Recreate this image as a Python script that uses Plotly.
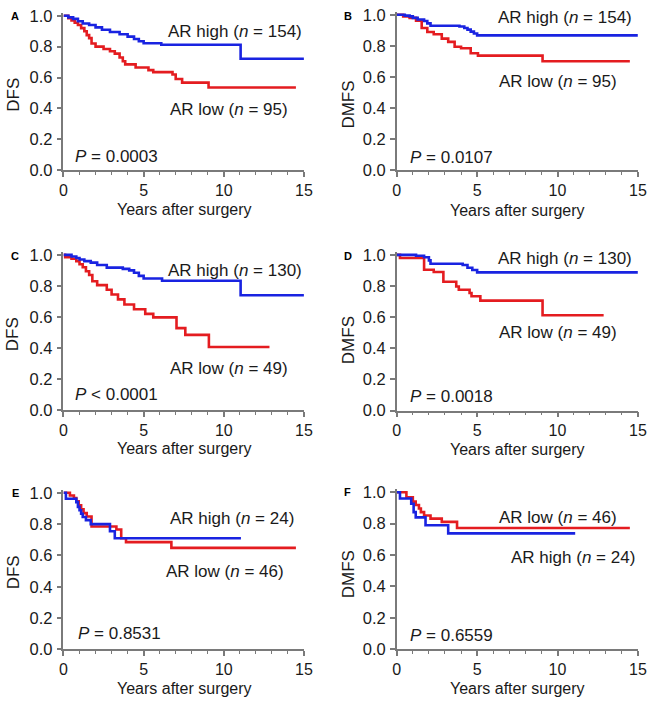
import plotly.graph_objects as go

# ---------------- data ----------------
A_high_t = [0, 0.3, 0.6, 0.9, 1.2, 1.6, 2.0, 2.4, 2.9, 3.5, 4.0, 4.4, 4.7, 5.0, 6.1, 11.05, 15.0]
A_high_s = [1.0, 0.99, 0.98, 0.965, 0.95, 0.94, 0.925, 0.91, 0.895, 0.88, 0.865, 0.85, 0.835, 0.822, 0.812, 0.722, 0.722]
A_low_t = [0, 0.3, 0.5, 0.7, 0.9, 1.1, 1.3, 1.45, 1.6, 1.75, 2.0, 2.5, 2.9, 3.2, 3.5, 3.7, 3.85, 4.5, 5.3, 5.6, 6.8, 7.0, 7.4, 9.05, 14.5]
A_low_s = [1.0, 0.985, 0.97, 0.955, 0.94, 0.92, 0.9, 0.875, 0.855, 0.82, 0.8, 0.785, 0.77, 0.755, 0.73, 0.705, 0.685, 0.665, 0.648, 0.635, 0.62, 0.59, 0.567, 0.535, 0.535]

B_high_t = [0, 0.5, 0.8, 1.0, 1.3, 1.7, 1.9, 2.1, 3.9, 4.2, 4.4, 4.6, 4.8, 5.0, 15.0]
B_high_s = [1.0, 0.995, 0.99, 0.98, 0.97, 0.96, 0.945, 0.93, 0.925, 0.915, 0.905, 0.892, 0.88, 0.868, 0.868]
B_low_t = [0, 0.4, 0.8, 1.2, 1.55, 1.9, 2.3, 2.8, 3.2, 3.6, 4.0, 4.6, 5.05, 9.07, 14.5]
B_low_s = [1.0, 0.99, 0.98, 0.962, 0.915, 0.89, 0.875, 0.847, 0.826, 0.795, 0.785, 0.753, 0.738, 0.702, 0.702]

C_high_t = [0, 0.5, 0.8, 1.0, 1.3, 1.7, 2.1, 2.7, 3.7, 4.1, 4.4, 4.7, 5.0, 6.15, 11.05, 15.0]
C_high_s = [1.0, 0.99, 0.98, 0.97, 0.96, 0.95, 0.935, 0.918, 0.91, 0.9, 0.885, 0.865, 0.848, 0.833, 0.74, 0.74]
C_low_t = [0, 0.1, 0.5, 0.8, 1.0, 1.2, 1.4, 1.6, 1.8, 2.1, 2.7, 3.0, 3.4, 3.8, 4.4, 5.1, 5.6, 7.05, 7.6, 9.07, 12.85]
C_low_s = [1.0, 0.985, 0.975, 0.96, 0.94, 0.92, 0.895, 0.87, 0.83, 0.805, 0.775, 0.745, 0.713, 0.68, 0.65, 0.62, 0.597, 0.528, 0.484, 0.406, 0.406]

D_high_t = [0, 1.2, 1.7, 2.0, 2.1, 4.1, 4.4, 4.7, 5.0, 15.0]
D_high_s = [1.0, 0.995, 0.985, 0.965, 0.943, 0.935, 0.918, 0.903, 0.888, 0.888]
D_low_t = [0, 0.2, 1.7, 2.3, 2.9, 3.7, 3.86, 4.53, 4.65, 5.2, 9.07, 12.87]
D_low_s = [1.0, 0.98, 0.905, 0.89, 0.828, 0.797, 0.776, 0.755, 0.734, 0.706, 0.612, 0.612]

E_high_t = [0, 0.15, 0.8, 0.9, 1.0, 1.1, 1.2, 1.4, 1.7, 2.9, 3.2, 11.07]
E_high_s = [1.0, 0.962, 0.94, 0.91, 0.888, 0.866, 0.845, 0.825, 0.8, 0.754, 0.71, 0.71]
E_low_t = [0, 0.4, 0.65, 0.8, 0.95, 1.1, 1.25, 1.45, 1.75, 3.3, 3.6, 3.9, 6.73, 14.5]
E_low_s = [1.0, 0.983, 0.967, 0.945, 0.92, 0.895, 0.87, 0.848, 0.785, 0.765, 0.71, 0.685, 0.648, 0.648]

F_high_t = [0, 0.2, 0.9, 1.05, 1.18, 1.79, 3.2, 11.1]
F_high_s = [1.0, 0.96, 0.926, 0.873, 0.84, 0.79, 0.738, 0.738]
F_low_t = [0, 0.6, 1.0, 1.18, 1.38, 1.5, 1.7, 2.1, 2.8, 3.75, 14.5]
F_low_s = [1.0, 0.967, 0.94, 0.918, 0.896, 0.873, 0.852, 0.832, 0.811, 0.772, 0.772]

panel_letters = ["A", "B", "C", "D", "E", "F"]
y_titles = ["DFS", "DMFS", "DFS", "DMFS", "DFS", "DMFS"]
x_title = "Years after surgery"
p_values = ["<i>P</i> = 0.0003", "<i>P</i> = 0.0107", "<i>P</i> < 0.0001",
            "<i>P</i> = 0.0018", "<i>P</i> = 0.8531", "<i>P</i> = 0.6559"]
high_labels = ["AR high (<i>n</i> = 154)", "AR high (<i>n</i> = 154)", "AR high (<i>n</i> = 130)",
               "AR high (<i>n</i> = 130)", "AR high (<i>n</i> = 24)", "AR high (<i>n</i> = 24)"]
low_labels = ["AR low (<i>n</i> = 95)", "AR low (<i>n</i> = 95)", "AR low (<i>n</i> = 49)",
              "AR low (<i>n</i> = 49)", "AR low (<i>n</i> = 46)", "AR low (<i>n</i> = 46)"]
x_ticks = [0, 5, 10, 15]
y_ticks = [0.0, 0.2, 0.4, 0.6, 0.8, 1.0]

series = [
    (A_high_t, A_high_s, A_low_t, A_low_s),
    (B_high_t, B_high_s, B_low_t, B_low_s),
    (C_high_t, C_high_s, C_low_t, C_low_s),
    (D_high_t, D_high_s, D_low_t, D_low_s),
    (E_high_t, E_high_s, E_low_t, E_low_s),
    (F_high_t, F_high_s, F_low_t, F_low_s),
]

# ---------------- layout geometry (page pixels) ----------------
W, H = 656, 708


def px2paper(px, py):
    return px / W, 1 - py / H


# (left, right, top(y=1.0), bottom(y=0)) in page pixels
boxes = [
    (60.7, 306.0, 10.0, 167.7),
    (400.7, 646.7, 9.0, 168.0),
    (60.7, 306.0, 254.3, 412.7),
    (400.7, 646.7, 254.3, 413.3),
    (60.7, 306.0, 497.3, 657.3),
    (400.7, 646.7, 496.7, 657.3),
]
high_pos = [(15.0, 0.90), (14.75, 0.983), (15.0, 0.90), (14.75, 0.979), (14.5, 0.833), (14.95, 0.585)]
low_pos = [(14.1, 0.395), (13.8, 0.572), (14.1, 0.265), (13.8, 0.499), (13.9, 0.496), (13.8, 0.838)]
p_pos = [(0.57, 0.087), (0.67, 0.086), (0.57, 0.10), (0.67, 0.088), (0.8, 0.104), (0.73, 0.087)]
ytitle_px = [(9.5, 90.3), (351.7, 101.0), (9.5, 335.0), (351.7, 341.7), (9.5, 578.3), (351.7, 580.8)]
# x title: (x centre, y, vertical anchor)
xtitle_px = [(183.8, 207.5, "middle"), (523.8, 208.5, "middle"), (183.8, 452.5, "middle"),
             (523.8, 453.5, "middle"), (183.8, 708.0, "bottom"), (523.8, 708.0, "bottom")]
letter_px = [(11.7, 10.7), (350.5, 10.7), (11.7, 255.0), (350.7, 255.0), (11.7, 497.3), (350.7, 496.7)]

BLUE = "rgb(25,35,225)"
RED = "rgb(228,28,32)"
FONT = "Arial, 'Liberation Sans', sans-serif"
TXT = "#1a1a1a"
AXC = "#7a7a7a"
FS = 17     # in-plot labels
XFS = 16    # x-axis titles
TFS = 16    # tick labels

fig = go.Figure()
annotations = []
EXTRA = 3.0  # px of headroom above y=1.0 so flat lines are not clipped

for i, (ht, hs, lt, ls) in enumerate(series):
    n = "" if i == 0 else str(i + 1)
    xa, ya = "x" + n, "y" + n
    fig.add_trace(go.Scatter(x=lt, y=ls, mode="lines", line=dict(color=RED, width=2.6, shape="hv"),
                             xaxis=xa, yaxis=ya, showlegend=False, hoverinfo="skip"))
    fig.add_trace(go.Scatter(x=ht, y=hs, mode="lines", line=dict(color=BLUE, width=2.6, shape="hv"),
                             xaxis=xa, yaxis=ya, showlegend=False, hoverinfo="skip"))
    l, r, t, b = boxes[i]
    ppu = b - t
    top = t - EXTRA
    ymax = 1.0 + EXTRA / ppu
    x0, y0 = px2paper(l, b)
    x1, y1 = px2paper(r, top)
    fig.layout["xaxis" + n] = dict(
        domain=[x0, x1], anchor=ya, range=[0, 15], tickvals=x_ticks,
        showline=True, linecolor=AXC, linewidth=1.5, ticks="outside", ticklen=5, tickwidth=1.5,
        tickcolor=AXC, showgrid=False, zeroline=False,
        tickfont=dict(family=FONT, size=TFS, color=TXT),
        minor=dict(tickvals=list(range(0, 16)), ticks="outside", ticklen=3, tickwidth=1.2, tickcolor=AXC),
    )
    fig.layout["yaxis" + n] = dict(
        domain=[y0, y1], anchor=xa, range=[0, ymax], tickvals=y_ticks,
        tickformat=".1f", showline=True, linecolor=AXC, linewidth=1.5, ticks="outside", ticklen=5,
        tickwidth=1.5, tickcolor=AXC, showgrid=False, zeroline=False,
        tickfont=dict(family=FONT, size=16.5, color=TXT), ticklabelstandoff=1,
    )
    fnt = dict(family=FONT, size=FS, color=TXT)
    hx, hy = high_pos[i]
    lx, ly = low_pos[i]
    px_, py_ = p_pos[i]
    annotations += [
        dict(x=hx, y=hy, xref=xa, yref=ya, text=high_labels[i], showarrow=False, xanchor="right", yanchor="middle", font=fnt),
        dict(x=lx, y=ly, xref=xa, yref=ya, text=low_labels[i], showarrow=False, xanchor="right", yanchor="middle", font=fnt),
        dict(x=px_, y=py_, xref=xa, yref=ya, text=p_values[i], showarrow=False, xanchor="left", yanchor="middle", font=fnt),
    ]
    tx, ty = px2paper(*ytitle_px[i])
    annotations.append(dict(x=tx, y=ty, xref="paper", yref="paper", text=y_titles[i], textangle=-90,
                            showarrow=False, xanchor="center", yanchor="middle", font=fnt))
    txp, typ, yanc = xtitle_px[i]
    tx, ty = px2paper(txp, typ)
    annotations.append(dict(x=tx, y=ty, xref="paper", yref="paper", text=x_title,
                            showarrow=False, xanchor="center", yanchor=yanc,
                            font=dict(family=FONT, size=XFS, color=TXT)))
    tx, ty = px2paper(*letter_px[i])
    annotations.append(dict(x=tx, y=ty, xref="paper", yref="paper", text="<b>%s</b>" % panel_letters[i],
                            showarrow=False, xanchor="center", yanchor="middle",
                            font=dict(family=FONT, size=11, color="#000")))

fig.update_layout(width=W, height=H, margin=dict(l=0, r=0, t=0, b=0), paper_bgcolor="white",
                  plot_bgcolor="white", annotations=annotations)
fig.write_html("out.html", config={"displayModeBar": False},
               post_script="document.body.style.margin='0px';")
